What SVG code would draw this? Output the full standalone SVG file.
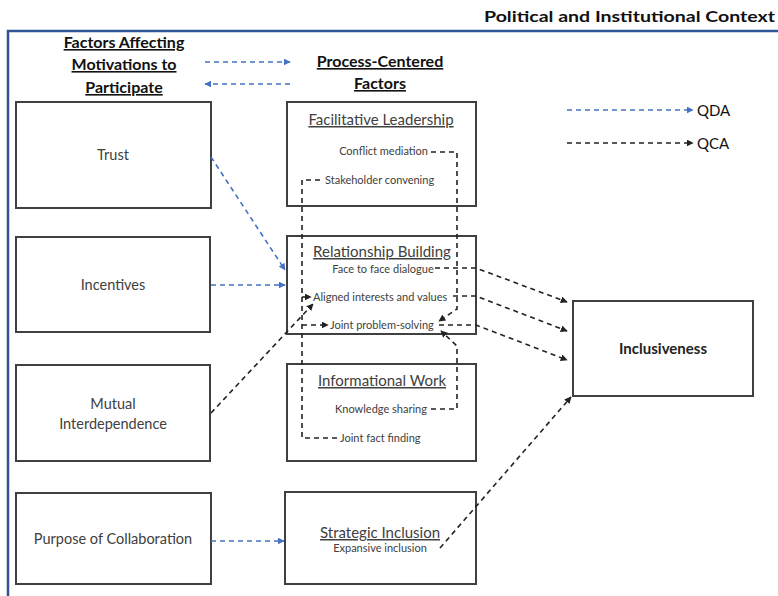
<svg xmlns="http://www.w3.org/2000/svg" width="778" height="596" viewBox="0 0 778 596">
<defs>
<marker id="ab" viewBox="0 0 10 10" refX="9" refY="5" markerWidth="7" markerHeight="7" orient="auto" markerUnits="userSpaceOnUse"><path d="M0,0 L10,5 L0,10 z" fill="#4472C4"/></marker>
<marker id="ak" viewBox="0 0 10 10" refX="9" refY="5" markerWidth="7" markerHeight="7" orient="auto" markerUnits="userSpaceOnUse"><path d="M0,0 L10,5 L0,10 z" fill="#222"/></marker>
</defs>
<style>
text{font-family:Lato,"Liberation Sans",sans-serif;}
.box{fill:#fff;stroke:#404040;stroke-width:2;}
.lbl{font-size:14.5px;fill:#404040;text-anchor:middle;}
.ttl{font-size:15px;fill:#404040;text-anchor:middle;text-decoration:underline;}
.sm{font-size:11px;fill:#404040;}
.hd{font-size:16px;font-weight:bold;fill:#111;text-anchor:middle;text-decoration:underline;}
.qb{fill:none;stroke:#4472C4;stroke-width:1.6;stroke-dasharray:5,4;}
.qk{fill:none;stroke:#222;stroke-width:1.6;stroke-dasharray:5,4;}
</style>
<rect width="778" height="596" fill="#fff"/>
<text x="775" y="22" font-size="16" font-weight="bold" fill="#111" text-anchor="end" textLength="291" lengthAdjust="spacingAndGlyphs">Political and Institutional Context</text>
<path d="M8,596 V31 H778" fill="none" stroke="#2F5597" stroke-width="2.5"/>
<g id="header-left"><text class="hd" x="124" y="48">Factors Affecting</text><text class="hd" x="124" y="70">Motivations to</text><text class="hd" x="124" y="93">Participate</text></g>
<g id="header-mid"><text class="hd" x="380" y="67">Process-Centered</text><text class="hd" x="380" y="89">Factors</text></g>
<g id="legend"><text x="697" y="116" font-size="15" fill="#111">QDA</text><text x="697" y="149" font-size="15" fill="#111">QCA</text></g>
<g id="trust"><rect class="box" x="16" y="102" width="195" height="106"/><text class="lbl" x="113" y="160">Trust</text></g>
<g id="incentives"><rect class="box" x="16" y="237" width="194" height="95"/><text class="lbl" x="113" y="290">Incentives</text></g>
<g id="mutual"><rect class="box" x="16" y="365" width="194" height="96"/><text class="lbl" x="113" y="409">Mutual</text><text class="lbl" x="113" y="429">Interdependence</text></g>
<g id="purpose"><rect class="box" x="16" y="493" width="195" height="91"/><text class="lbl" x="113" y="544">Purpose of Collaboration</text></g>
<g id="facilitative"><rect class="box" x="287" y="102" width="189" height="104"/><text class="ttl" x="381" y="125">Facilitative Leadership</text><text class="sm" x="428" y="155" text-anchor="end">Conflict mediation</text><text class="sm" x="325" y="184">Stakeholder convening</text></g>
<g id="relationship"><rect class="box" x="287" y="236" width="189" height="98"/><text class="ttl" x="382" y="257">Relationship Building</text><text class="sm" x="383" y="273" text-anchor="middle">Face to face dialogue</text><text class="sm" x="313" y="301">Aligned interests and values</text><text class="sm" x="330" y="329">Joint problem-solving</text></g>
<g id="informational"><rect class="box" x="287" y="364" width="189" height="97"/><text class="ttl" x="382" y="386">Informational Work</text><text class="sm" x="335" y="413">Knowledge sharing</text><text class="sm" x="340" y="442">Joint fact finding</text></g>
<g id="strategic"><rect class="box" x="285" y="492" width="191" height="92"/><text class="ttl" x="380" y="538">Strategic Inclusion</text><text class="sm" x="380" y="552" text-anchor="middle">Expansive inclusion</text></g>
<g id="inclusiveness"><rect class="box" x="573" y="301" width="180" height="95"/><text x="663" y="354" font-size="15" font-weight="bold" fill="#222" text-anchor="middle">Inclusiveness</text></g>
<g id="connectors">
<path class="qb" d="M205,62 H290" marker-end="url(#ab)"/>
<path class="qb" d="M290,84 H205" marker-end="url(#ab)"/>
<path class="qb" d="M567,110 H693" marker-end="url(#ab)"/>
<path class="qk" d="M567,143 H693" marker-end="url(#ak)"/>
<path class="qb" d="M211,157 L285,270" marker-end="url(#ab)"/>
<path class="qb" d="M211,285 H285" marker-end="url(#ab)"/>
<path class="qb" d="M211,541 H284" marker-end="url(#ab)"/>
<path class="qk" d="M211,413 L313,304" marker-end="url(#ak)"/>
<path class="qk" d="M431,152 H457 V309 L439,321" marker-end="url(#ak)"/>
<path class="qk" d="M431,409 H457 V346 L441,331" marker-end="url(#ak)"/>
<path class="qk" d="M320,180 H302 V438 H338"/>
<path class="qk" d="M302,297 H311" marker-end="url(#ak)"/>
<path class="qk" d="M302,325 H328" marker-end="url(#ak)"/>
<path class="qk" d="M435,268 H476 L567,302" marker-end="url(#ak)"/>
<path class="qk" d="M453,296 H476 L567,331" marker-end="url(#ak)"/>
<path class="qk" d="M439,325 H476 L567,360" marker-end="url(#ak)"/>
<path class="qk" d="M440,548 L571,397" marker-end="url(#ak)"/>
</g>
</svg>
